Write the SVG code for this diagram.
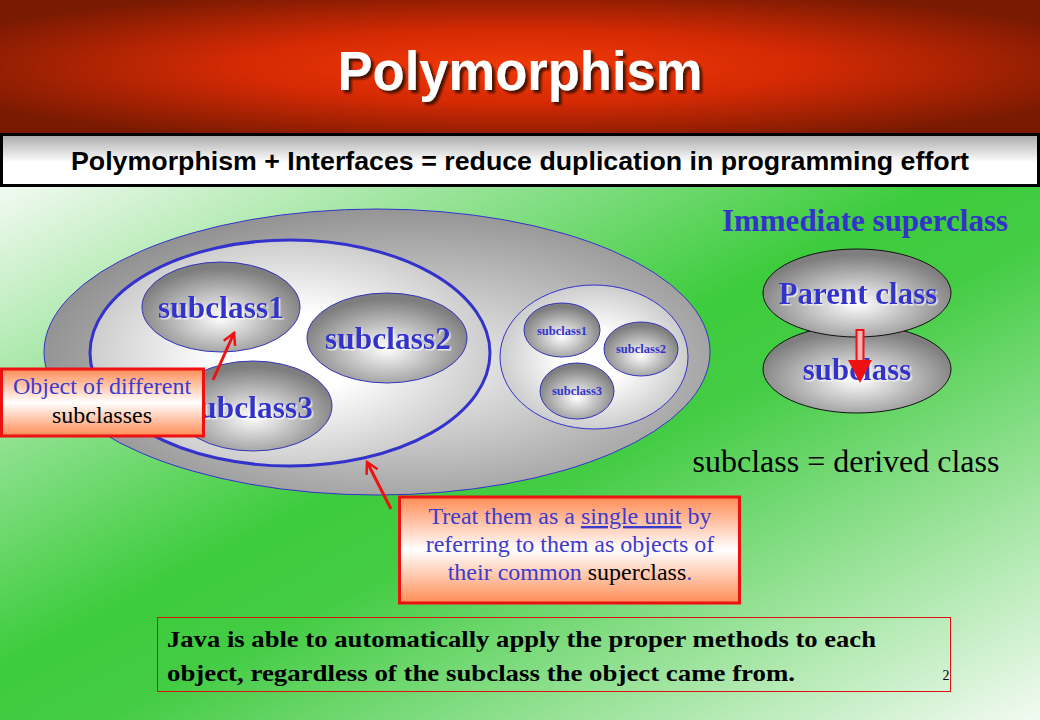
<svg xmlns="http://www.w3.org/2000/svg" width="1040" height="720" viewBox="0 0 1040 720">
<defs>
  <radialGradient id="hdr" cx="0.5" cy="0.5" r="0.6">
    <stop offset="0" stop-color="#f23a08"/>
    <stop offset="0.45" stop-color="#d52a04"/>
    <stop offset="1" stop-color="#7a1a02"/>
  </radialGradient>
  <linearGradient id="bar" x1="0" y1="0" x2="0" y2="1">
    <stop offset="0" stop-color="#a8a8a8"/>
    <stop offset="0.55" stop-color="#ffffff"/>
    <stop offset="1" stop-color="#ffffff"/>
  </linearGradient>
  <linearGradient id="bg" x1="0" y1="0" x2="1" y2="1">
    <stop offset="0" stop-color="#f2faf2"/>
    <stop offset="0.45" stop-color="#3ccc3c"/>
    <stop offset="0.55" stop-color="#44cc44"/>
    <stop offset="1" stop-color="#f2faf2"/>
  </linearGradient>
  <radialGradient id="outer" cx="0.55" cy="0.55" r="0.6">
    <stop offset="0" stop-color="#f4f4f4"/>
    <stop offset="1" stop-color="#8c8c8c"/>
  </radialGradient>
  <radialGradient id="inner" cx="0.5" cy="0.5" r="0.6">
    <stop offset="0.3" stop-color="#ffffff"/>
    <stop offset="1" stop-color="#bdbdbd"/>
  </radialGradient>
  <radialGradient id="node" cx="0.5" cy="0.62" r="0.55">
    <stop offset="0" stop-color="#ffffff"/>
    <stop offset="1" stop-color="#7e7e7e"/>
  </radialGradient>
  <linearGradient id="callout" x1="0" y1="0" x2="0" y2="1">
    <stop offset="0" stop-color="#ff8c55"/>
    <stop offset="0.5" stop-color="#ffffff"/>
    <stop offset="1" stop-color="#ff8c55"/>
  </linearGradient>
  <filter id="tshadow" x="-10%" y="-10%" width="130%" height="140%">
    <feDropShadow dx="3" dy="3" stdDeviation="0.8" flood-color="#3a0a00" flood-opacity="0.9"/>
  </filter>
  <filter id="lshadow" x="-10%" y="-10%" width="130%" height="140%">
    <feDropShadow dx="1.5" dy="1.5" stdDeviation="0.6" flood-color="#ffffff" flood-opacity="0.7"/>
  </filter>
  <marker id="open" viewBox="0 0 12 12" refX="10" refY="6" markerWidth="5" markerHeight="5" orient="auto" markerUnits="strokeWidth">
    <path d="M1,1 L10,6 L1,11" fill="none" stroke="#ee1111" stroke-width="2"/>
  </marker>
  <style>
    .big { font-family: "Liberation Serif", serif; font-weight: bold; fill: #3333cc; text-anchor: middle; }
    .node { fill: url(#node); stroke: #3333bb; stroke-width: 1; }
    .rnode { fill: url(#node); stroke: #111111; stroke-width: 1; }
    .cbox { fill: url(#callout); stroke: #ee1111; stroke-width: 3; }
    .ctxt { font-family: "Liberation Serif", serif; font-size: 24px; fill: #3c3ccc; text-anchor: middle; }
    .arrow { stroke: #ee1111; stroke-width: 3; fill: none; marker-end: url(#open); }
  </style>
</defs>

<!-- background -->
<rect x="0" y="186" width="1040" height="534" fill="url(#bg)"/>
<rect x="0" y="0" width="1040" height="133" fill="url(#hdr)"/>
<text x="520" y="90" font-family="Liberation Sans, Arial, sans-serif" font-weight="bold" font-size="56" fill="#ffffff" text-anchor="middle" textLength="365" lengthAdjust="spacingAndGlyphs" filter="url(#tshadow)">Polymorphism</text>

<g id="subtitle">
  <rect x="1.5" y="134.5" width="1037" height="51" fill="url(#bar)" stroke="#000000" stroke-width="3"/>
  <text x="520" y="170" font-family="Liberation Sans, Arial, sans-serif" font-weight="bold" font-size="25" fill="#000000" text-anchor="middle" textLength="898" lengthAdjust="spacingAndGlyphs">Polymorphism + Interfaces = reduce duplication in programming effort</text>
</g>

<!-- left diagram -->
<g id="outer-set">
  <ellipse cx="377" cy="352" rx="333" ry="143" fill="url(#outer)" stroke="#3333cc" stroke-width="1"/>
</g>
<g id="inner-set">
  <ellipse cx="290" cy="353" rx="200" ry="113" fill="url(#inner)" stroke="#3333cc" stroke-width="3"/>
</g>
<g id="subclass1">
  <ellipse class="node" cx="221" cy="307" rx="79" ry="45"/>
  <text class="big" x="221" y="318" font-size="31.5" filter="url(#lshadow)">subclass1</text>
</g>
<g id="subclass2">
  <ellipse class="node" cx="387" cy="338" rx="80" ry="45"/>
  <text class="big" x="388" y="349" font-size="31.5" filter="url(#lshadow)">subclass2</text>
</g>
<g id="subclass3">
  <ellipse class="node" cx="253" cy="406" rx="79" ry="45"/>
  <text class="big" x="250" y="418" font-size="31.5" filter="url(#lshadow)">subclass3</text>
</g>

<g id="small-set">
  <ellipse cx="594" cy="357" rx="94" ry="72" fill="url(#inner)" stroke="#3333cc" stroke-width="1"/>
</g>
<g id="small-subclass1">
  <ellipse class="node" cx="562" cy="330" rx="38" ry="27"/>
  <text class="big" x="562" y="335" font-size="12.5">subclass1</text>
</g>
<g id="small-subclass2">
  <ellipse class="node" cx="641" cy="349" rx="37" ry="27"/>
  <text class="big" x="641" y="353" font-size="12.5">subclass2</text>
</g>
<g id="small-subclass3">
  <ellipse class="node" cx="577" cy="391" rx="37" ry="28"/>
  <text class="big" x="577" y="395" font-size="12.5">subclass3</text>
</g>

<!-- right diagram -->
<text class="big" x="865" y="231" font-size="31">Immediate superclass</text>
<g id="subclass">
  <ellipse class="rnode" cx="857" cy="369" rx="94" ry="44"/>
  <text class="big" x="857" y="380" font-size="31" filter="url(#lshadow)">subclass</text>
</g>
<g id="parent">
  <ellipse class="rnode" cx="857" cy="293" rx="94" ry="44"/>
  <text class="big" x="858" y="304" font-size="31" filter="url(#lshadow)">Parent class</text>
</g>
<text x="846" y="472" font-family="Liberation Serif, serif" font-size="32" fill="#000000" text-anchor="middle">subclass = derived class</text>

<!-- callouts -->
<g id="callout-objects">
  <rect class="cbox" x="1.5" y="369" width="202" height="67"/>
  <text class="ctxt" x="102" y="394">Object of different</text>
  <text class="ctxt" x="102" y="423" style="fill:#000000">subclasses</text>
</g>
<g id="callout-unit">
  <rect class="cbox" x="399.5" y="497" width="340" height="106"/>
  <text class="ctxt" x="570" y="524">Treat them as a <tspan text-decoration="underline">single unit</tspan> by</text>
  <text class="ctxt" x="570" y="552">referring to them as objects of</text>
  <text class="ctxt" x="570" y="580">their common <tspan style="fill:#000000">superclass</tspan>.</text>
</g>

<g id="connectors">
  <line class="arrow" x1="213" y1="380" x2="234" y2="333"/>
  <line class="arrow" x1="391" y1="509" x2="367" y2="462"/>
  <rect x="856.5" y="330" width="7" height="31" fill="#ffb0b0" stroke="#ee1111" stroke-width="2"/>
  <polygon points="848,360 872,360 860,383" fill="#ee1111"/>
</g>

<g id="note">
  <rect x="157.5" y="617.5" width="793" height="74" fill="none" stroke="#dd1111" stroke-width="1"/>
  <text x="167" y="647" font-family="Liberation Serif, serif" font-weight="bold" font-size="24" fill="#000000" textLength="709" lengthAdjust="spacingAndGlyphs">Java is able to automatically apply the proper methods to each</text>
  <text x="167" y="681" font-family="Liberation Serif, serif" font-weight="bold" font-size="24" fill="#000000" textLength="628" lengthAdjust="spacingAndGlyphs">object, regardless of the subclass the object came from.</text>
  <text x="946" y="680" font-family="Liberation Serif, serif" font-size="14" fill="#000000" text-anchor="middle">2</text>
</g>
</svg>
